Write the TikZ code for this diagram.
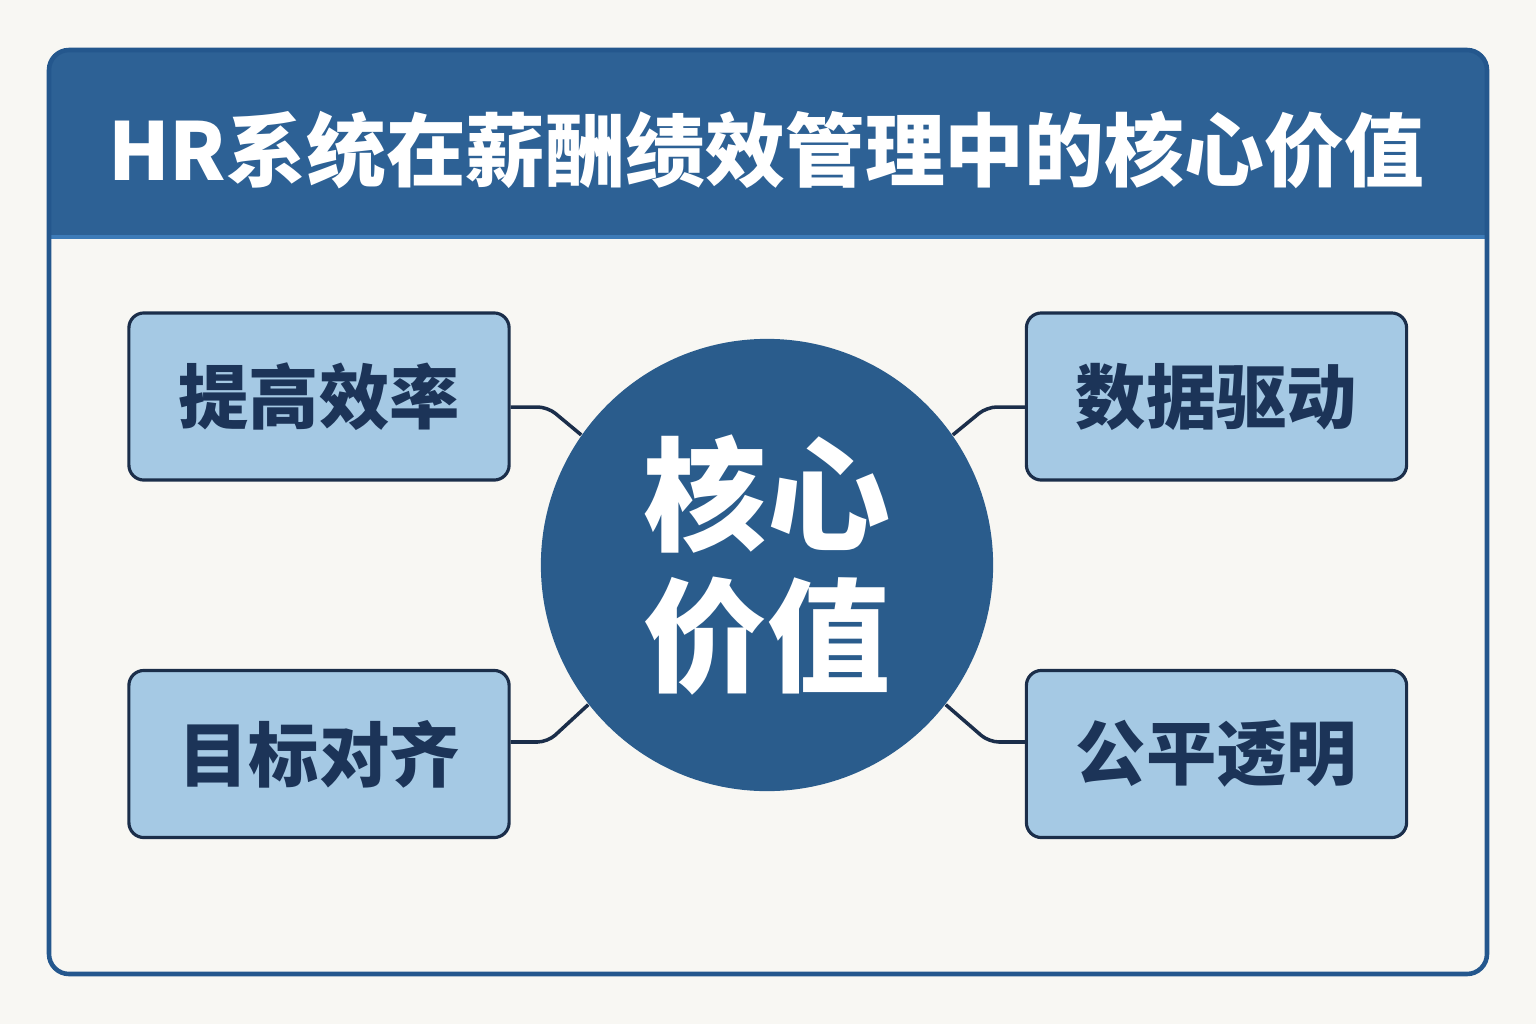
\documentclass[tikz,border=0pt]{standalone}
\usepackage{fontspec}
\usepackage{tikz}
\usepackage{xcolor}
\usetikzlibrary{positioning}
\newfontfamily\cjk{Noto Sans CJK SC}
\definecolor{bgpaper}{HTML}{F8F7F3}
\definecolor{bandblue}{HTML}{2D6195}
\definecolor{frameblue}{HTML}{24578D}
\definecolor{stripblue}{HTML}{3D7BB8}
\definecolor{coreblue}{HTML}{2A5C8C}
\definecolor{boxblue}{HTML}{A5C9E4}
\definecolor{navy}{HTML}{1B2E4A}
\definecolor{boxtext}{HTML}{1C3458}

\begin{document}
\begin{tikzpicture}[x=0.01cm, y=-0.01cm,
  valuebox/.style={draw=navy, line width=0.9pt, fill=boxblue, rounded corners=0.15cm,
    minimum width=3.8cm, minimum height=1.67cm, inner sep=0pt,
    text=boxtext, font=\cjk\bfseries\fontsize{20pt}{24pt}\selectfont},
  link/.style={navy, line width=1pt, rounded corners=0.1cm}]
\fill[bgpaper] (0,0) rectangle (1536,1024);
\useasboundingbox (0,0) rectangle (1536,1024);
% header band
\fill[bandblue] (49,237) [rounded corners=0.2cm] -- (49,50) -- (1487,50) [sharp corners] -- (1487,237) -- cycle;
\draw[stripblue, line width=1.4pt] (51,237) -- (1485,237);
\draw[frameblue, line width=1.3pt, rounded corners=0.2cm] (49,50) rectangle (1487,974);
\node[text=white, font=\cjk\bfseries\fontsize{22.7pt}{27pt}\selectfont] (title) at (766,150) {HR系统在薪酬绩效管理中的核心价值};
% center
\node[circle, fill=coreblue, minimum size=4.52cm, inner sep=0pt, align=center,
  text=white, font=\cjk\bfseries\fontsize{35pt}{40pt}\selectfont] (core) at (767,565) {核心\\价值};
% four values
\node[valuebox] (eff) at (319,396.5) {提高效率};
\node[valuebox] (goal) at (319,754) {目标对齐};
\node[valuebox] (data) at (1216.5,396.5) {数据驱动};
\node[valuebox] (fair) at (1216.5,754) {公平透明};
% links
\draw[link] ([yshift=-0.105cm]eff.east) -- ++(37,0) -- (core.145);
\draw[link] ([yshift=0.12cm]goal.east) -- ++(37,0) -- (core.218);
\draw[link] ([yshift=-0.105cm]data.west) -- ++(-38,0) -- (core.35);
\draw[link] ([yshift=0.12cm]fair.west) -- ++(-36,0) -- (core.322);
\end{tikzpicture}
\end{document}
